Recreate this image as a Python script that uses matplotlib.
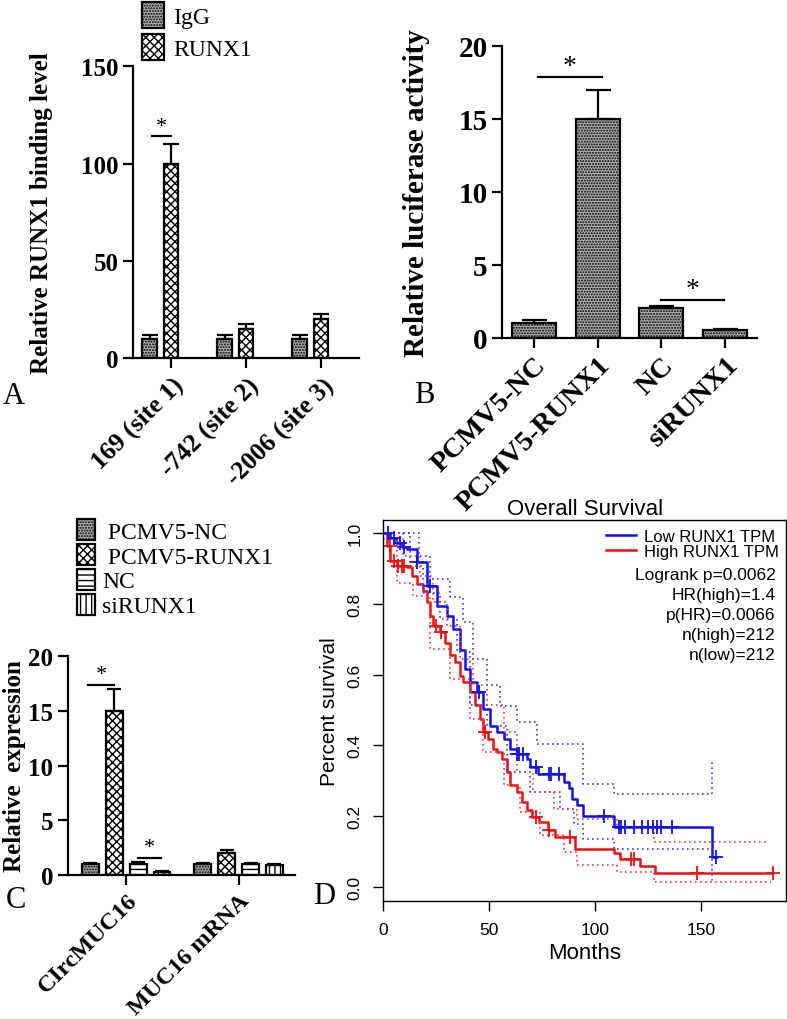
import numpy as np
import matplotlib
matplotlib.use("Agg")
from matplotlib import pyplot as plt

# ---- data ----
# panel A: ChIP
a_sites = ["169 (site 1)", "-742 (site 2)", "-2006 (site 3)"]
a_igg = [10, 10, 10]
a_igg_err = [2, 2, 2]
a_runx1 = [100, 15, 20]
a_runx1_err = [10, 2.5, 2.5]

# panel B: luciferase
b_groups = ["PCMV5-NC", "PCMV5-RUNX1", "NC", "siRUNX1"]
b_vals = [1.0, 15.0, 2.0, 0.5]
b_err = [0.2, 2.0, 0.2, 0.07]

# panel C: expression
c_groups = ["CIrcMUC16", "MUC16 mRNA"]
c_series = ["PCMV5-NC", "PCMV5-RUNX1", "NC", "siRUNX1"]
c_vals = [[1.0, 1.0], [15.0, 2.0], [1.0, 1.0], [0.3, 0.9]]
c_err = [[0.1, 0.1], [2.0, 0.3], [0.2, 0.15], [0.1, 0.15]]

# panel D: Kaplan-Meier
low_t = [0, 3, 6, 9, 11, 15.7, 20.5, 25.2, 29.9, 33, 36.2, 38.6, 41, 44, 47, 50.4, 53.5, 56.7, 59.8,
         63, 67.7, 69.3, 73, 85, 87.4, 89, 91.3, 94.4, 108.6, 155, 157.4]
low_s = [1.0, 0.985, 0.972, 0.962, 0.955, 0.917, 0.85, 0.795, 0.767, 0.73, 0.67, 0.617, 0.58, 0.55,
         0.503, 0.456, 0.437, 0.418, 0.39, 0.376, 0.362, 0.339, 0.32, 0.296, 0.278, 0.249, 0.23, 0.2,
         0.17, 0.085, 0.085]
high_t = [0, 1.6, 3.1, 6.3, 11, 13.4, 15.7, 18.9, 20.5, 22, 23.6, 26.8, 29, 31.5, 33.8, 36.2, 37.8,
          41, 43.3, 45.6, 47.2, 49.6, 51.9, 53.5, 55.9, 58.3, 59.8, 63, 65.3, 67.7, 70, 73.2, 77.9,
          81, 90.6, 108.6, 111.8, 121.2, 128.3, 184]
high_s = [1.0, 0.964, 0.92, 0.908, 0.903, 0.88, 0.856, 0.837, 0.804, 0.767, 0.738, 0.72, 0.69, 0.654,
          0.635, 0.597, 0.579, 0.55, 0.513, 0.475, 0.437, 0.418, 0.39, 0.381, 0.362, 0.325, 0.287,
          0.268, 0.24, 0.216, 0.198, 0.183, 0.16, 0.141, 0.108, 0.096, 0.08, 0.059, 0.04, 0.04]
low_cens = [2, 5, 8, 10, 16, 22, 45, 63, 64, 66, 72, 78, 79, 83, 104, 111, 112, 114, 118, 122,
            125, 127, 129, 131, 136, 157]
high_cens = [3, 5, 7, 9, 10, 25, 27, 48, 72, 78, 88, 117, 118, 148, 184]

low_up_t = [0, 1.6, 17, 22, 31.5, 37.8, 42.5, 48.8, 55, 63, 72.4, 94.4, 108.6, 155]
low_up_s = [1.0, 1.0, 0.935, 0.87, 0.82, 0.75, 0.644, 0.57, 0.51, 0.466, 0.405, 0.29, 0.263, 0.357]
low_lo_t = [0, 12.6, 18.9, 26.8, 34.6, 41, 48.8, 58.2, 69.3, 83.4, 89.7, 94.4, 108.6, 155]
low_lo_s = [1.0, 0.908, 0.832, 0.757, 0.663, 0.513, 0.456, 0.325, 0.268, 0.221, 0.179, 0.136, 0.108, 0.014]
high_up_t = [0, 9.4, 17.3, 23.6, 29.9, 36.2, 42.5, 48.8, 56.7, 63, 70.8, 80.3, 91.3, 110, 127.5, 182]
high_up_s = [1.0, 0.936, 0.88, 0.804, 0.738, 0.644, 0.57, 0.513, 0.437, 0.325, 0.268, 0.221, 0.193,
             0.165, 0.127, 0.127]
high_lo_t = [0, 6.3, 14, 22, 31.5, 41, 47.2, 56.7, 64.5, 74, 85, 91.3, 110, 127.5, 182.6]
high_lo_s = [0.983, 0.86, 0.823, 0.673, 0.588, 0.475, 0.381, 0.287, 0.212, 0.146, 0.099, 0.061,
             0.042, 0.014, 0.014]

stats = ["Logrank p=0.0062", "HR(high)=1.4", "p(HR)=0.0066", "n(high)=212", "n(low)=212"]

# ---- style ----
serif = "Liberation Serif"
sans = "Liberation Sans"
plt.rcParams["hatch.linewidth"] = 1.0
stipple = dict(facecolor="#b0b0b0", hatch="......", edgecolor="black")
checker = dict(facecolor="white", hatch="xxxx", edgecolor="black")
hlines = dict(facecolor="white", hatch="---", edgecolor="black")
vlines = dict(facecolor="white", hatch="|||", edgecolor="black")

fig = plt.figure(figsize=(7.87, 10.20), dpi=100)


def prism_axes(ax, ylabel, fs_tick, fs_lab):
    for s in ["top", "right"]:
        ax.spines[s].set_visible(False)
    for s in ["left", "bottom"]:
        ax.spines[s].set_linewidth(1.6)
    ax.tick_params(axis="both", direction="out", width=1.6, length=7)
    for lbl in ax.get_yticklabels():
        lbl.set_fontfamily(serif)
        lbl.set_fontweight("bold")
        lbl.set_fontsize(fs_tick)
    ax.set_ylabel(ylabel, fontfamily=serif, fontweight="bold", fontsize=fs_lab)


def sig(ax, x0, x1, y, ystar, fs):
    ax.plot([x0, x1], [y, y], color="black", lw=1.6, clip_on=False)
    ax.text((x0 + x1) / 2, ystar, "*", ha="center", va="center", fontsize=fs, fontfamily=serif)


# ---- A ----
axA = fig.add_axes([0.169, 0.648, 0.287, 0.286])
xa = np.arange(len(a_sites))
w = 0.19
axA.bar(xa - 0.29, a_igg, w, linewidth=1.6, label="IgG", **stipple)
axA.bar(xa, a_runx1, w, linewidth=1.6, label="RUNX1", **checker)
axA.errorbar(xa - 0.29, a_igg, yerr=[np.zeros(3), a_igg_err], fmt="none", ecolor="black",
             elinewidth=1.6, capsize=6, capthick=1.6)
axA.errorbar(xa, a_runx1, yerr=[np.zeros(3), a_runx1_err], fmt="none", ecolor="black",
             elinewidth=1.6, capsize=6, capthick=1.6)
axA.set_xlim(-0.51, 2.5)
axA.set_ylim(0, 150)
axA.set_yticks([0, 50, 100, 150])
axA.set_xticks(xa)
axA.set_xticklabels(a_sites, rotation=45, ha="right", rotation_mode="anchor",
                    fontfamily=serif, fontweight="bold", fontsize=18.5)
prism_axes(axA, "Relative RUNX1 binding level", 18, 18)
axA.yaxis.labelpad = 20
sig(axA, -0.26, 0.0, 114, 119, 16)
axA.legend(loc="lower left", bbox_to_anchor=(0.0, 0.99), frameon=False,
           prop={"family": serif, "size": 17}, handlelength=0.9, handleheight=1.3,
           handletextpad=0.4, labelspacing=0.25, borderaxespad=0)

# ---- B ----
axB = fig.add_axes([0.638, 0.668, 0.324, 0.286])
xb = np.arange(len(b_groups))
axB.bar(xb, b_vals, 0.69, linewidth=1.6, **stipple)
axB.errorbar(xb, b_vals, yerr=[np.zeros(4), b_err], fmt="none", ecolor="black",
             elinewidth=1.6, capsize=9, capthick=1.6)
axB.set_xlim(-0.5, 3.5)
axB.set_ylim(0, 20)
axB.set_yticks([0, 5, 10, 15, 20])
axB.set_xticks(xb)
axB.set_xticklabels(b_groups, rotation=45, ha="right", rotation_mode="anchor",
                    fontfamily=serif, fontweight="bold", fontsize=20.5)
prism_axes(axB, "Relative luciferase activity", 21, 21)
axB.yaxis.labelpad = 20
sig(axB, 0.06, 1.07, 17.9, 18.6, 20)
sig(axB, 2.0, 2.98, 2.6, 3.3, 20)

# ---- C ----
axC = fig.add_axes([0.0864, 0.141, 0.288, 0.215])
xc = np.arange(len(c_groups))
offs = [-0.32, -0.107, 0.107, 0.32]
styles = [stipple, checker, hlines, vlines]
for k in range(4):
    axC.bar(xc + offs[k], c_vals[k], 0.147, linewidth=1.6, label=c_series[k], **styles[k])
    axC.errorbar(xc + offs[k], c_vals[k], yerr=[np.zeros(2), c_err[k]], fmt="none",
                 ecolor="black", elinewidth=1.6, capsize=5, capthick=1.6)
axC.set_xlim(-0.52, 1.5)
axC.set_ylim(0, 20)
axC.set_yticks([0, 5, 10, 15, 20])
axC.set_xticks(xc)
axC.set_xticklabels(c_groups, rotation=45, ha="right", rotation_mode="anchor",
                    fontfamily=serif, fontweight="bold", fontsize=17.5)
prism_axes(axC, "Relative  expression", 18, 18)
axC.yaxis.labelpad = 2
sig(axC, -0.34, -0.107, 17.35, 18.3, 16)
sig(axC, 0.1, 0.31, 1.55, 2.5, 16)
hl, lb = axC.get_legend_handles_labels()
lb = [" " + lb[0], " " + lb[1], lb[2], lb[3]]
axC.legend(hl, lb, loc="lower left", bbox_to_anchor=(0.0, 1.133), frameon=False,
           prop={"family": serif, "size": 17}, handlelength=0.75, handleheight=1.0,
           handletextpad=0.3, labelspacing=0.05, borderaxespad=0)

# ---- D ----
axD = fig.add_axes([0.487, 0.1157, 0.512, 0.3735])


def step_at(ts, ss, x):
    i = np.searchsorted(ts, x, side="right") - 1
    return np.array(ss)[i]


axD.plot(low_t, low_s, color="#1010ee", lw=1.8, drawstyle="steps-post", label="Low RUNX1 TPM")
axD.plot(high_t, high_s, color="#ee1010", lw=1.8, drawstyle="steps-post", label="High RUNX1 TPM")
for ts, ss, c in [(low_up_t, low_up_s, "#3a3aee"), (low_lo_t, low_lo_s, "#3a3aee"),
                  (high_up_t, high_up_s, "#ee3a3a"), (high_lo_t, high_lo_s, "#ee3a3a")]:
    axD.plot(ts, ss, color=c, lw=1.2, ls=(0, (1, 2)), drawstyle="steps-post")
axD.plot(low_cens, step_at(low_t, low_s, low_cens), "+", color="#1010ee", ms=10, mew=1.3)
axD.plot(high_cens, step_at(high_t, high_s, high_cens), "+", color="#ee1010", ms=10, mew=1.3)
axD.set_xlim(0, 190)
axD.set_ylim(-0.04, 1.037)
axD.set_xticks([0, 50, 100, 150])
axD.set_yticks([0.0, 0.2, 0.4, 0.6, 0.8, 1.0])
axD.set_yticklabels(["0.0", "0.2", "0.4", "0.6", "0.8", "1.0"], rotation=90, va="center")
for s in axD.spines.values():
    s.set_linewidth(1.0)
axD.tick_params(axis="both", direction="out", length=7, width=1.0, labelsize=12.5, pad=8)
for lbl in axD.get_xticklabels() + axD.get_yticklabels():
    lbl.set_fontfamily(sans)
axD.set_xlabel("Months", fontfamily=sans, fontsize=16)
axD.set_ylabel("Percent survival", fontfamily=sans, fontsize=15, labelpad=6)
axD.set_title("Overall Survival", fontfamily=sans, fontsize=16, pad=4)
axD.legend(loc="upper left", bbox_to_anchor=(0.535, 0.995), frameon=False,
           prop={"family": sans, "size": 12}, handlelength=1.8, handletextpad=0.5,
           labelspacing=0.0, borderaxespad=0)
for i, s in enumerate(stats):
    axD.text(0.973, 0.858 - i * 0.0525, s, transform=axD.transAxes, ha="right", va="center",
             fontfamily=sans, fontsize=12.5)

# panel letters
for ch, x, y in [("A", 0.017, 0.611), ("B", 0.539, 0.612), ("C", 0.02, 0.117), ("D", 0.412, 0.121)]:
    fig.text(x, y, ch, fontfamily=serif, fontsize=22, ha="center", va="center")

fig.savefig("out.png", dpi=100)
